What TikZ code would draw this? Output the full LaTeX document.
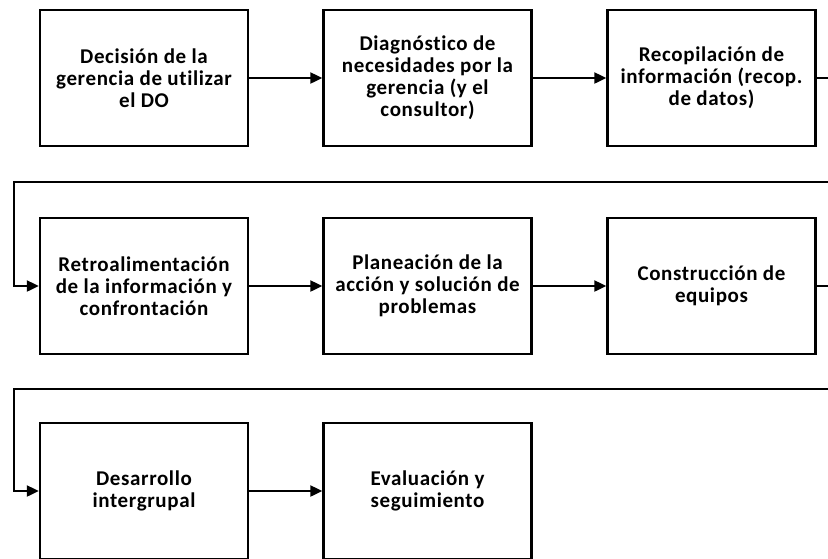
\documentclass[tikz,border=0pt]{standalone}
\usepackage{fontspec}
\setmainfont[Ligatures=NoCommon,LetterSpace=3]{Carlito}
\usetikzlibrary{arrows.meta}
\begin{document}
\begin{tikzpicture}[x=1pt,y=-1pt,
  stepbox/.style={draw,line width=2.4pt,minimum width=208pt,minimum height=136pt,
    align=center,font=\bfseries\fontsize{21}{22}\selectfont,inner sep=0pt},
  conn/.style={line width=2.2pt,-{Triangle[length=12pt,width=11pt]}},
  plain/.style={line width=2.2pt}]
\useasboundingbox (0,0) rectangle (828,558);
\clip (0,0) rectangle (828,558);
\node[stepbox] (b1) at (144,78) {Decisión de la\\gerencia de utilizar\\el DO};
\node[stepbox] (b2) at (427.5,78) {Diagnóstico de\\necesidades por la\\gerencia (y el\\consultor)};
\node[stepbox] (b3) at (711.5,78) {Recopilación de\\información (recop.\\de datos)};
\node[stepbox] (b4) at (144,286) {Retroalimentación\\de la información y\\confrontación};
\node[stepbox] (b5) at (427.5,286) {Planeación de la\\acción y solución de\\problemas};
\node[stepbox] (b6) at (711.5,286) {Construcción de\\equipos};
\node[stepbox] (b7) at (144,491) {Desarrollo\\intergrupal};
\node[stepbox] (b8) at (427.5,491) {Evaluación y\\seguimiento};
\coordinate (r1) at (840,78);
\coordinate (r2) at (840,182);
\coordinate (l1) at (14,182);
\coordinate (r3) at (840,286);
\coordinate (r4) at (840,389);
\coordinate (l2) at (14,389);
\draw[conn] (b1) -- (b2);
\draw[conn] (b2) -- (b3);
\draw[conn] (b3.east) -- (r1) -- (r2) -- (l1) |- (b4.west);
\draw[conn] (b4) -- (b5);
\draw[conn] (b5) -- (b6);
\draw[conn] (b6.east) -- (r3) -- (r4) -- (l2) |- (b7.west);
\draw[conn] (b7) -- (b8);
\end{tikzpicture}
\end{document}
